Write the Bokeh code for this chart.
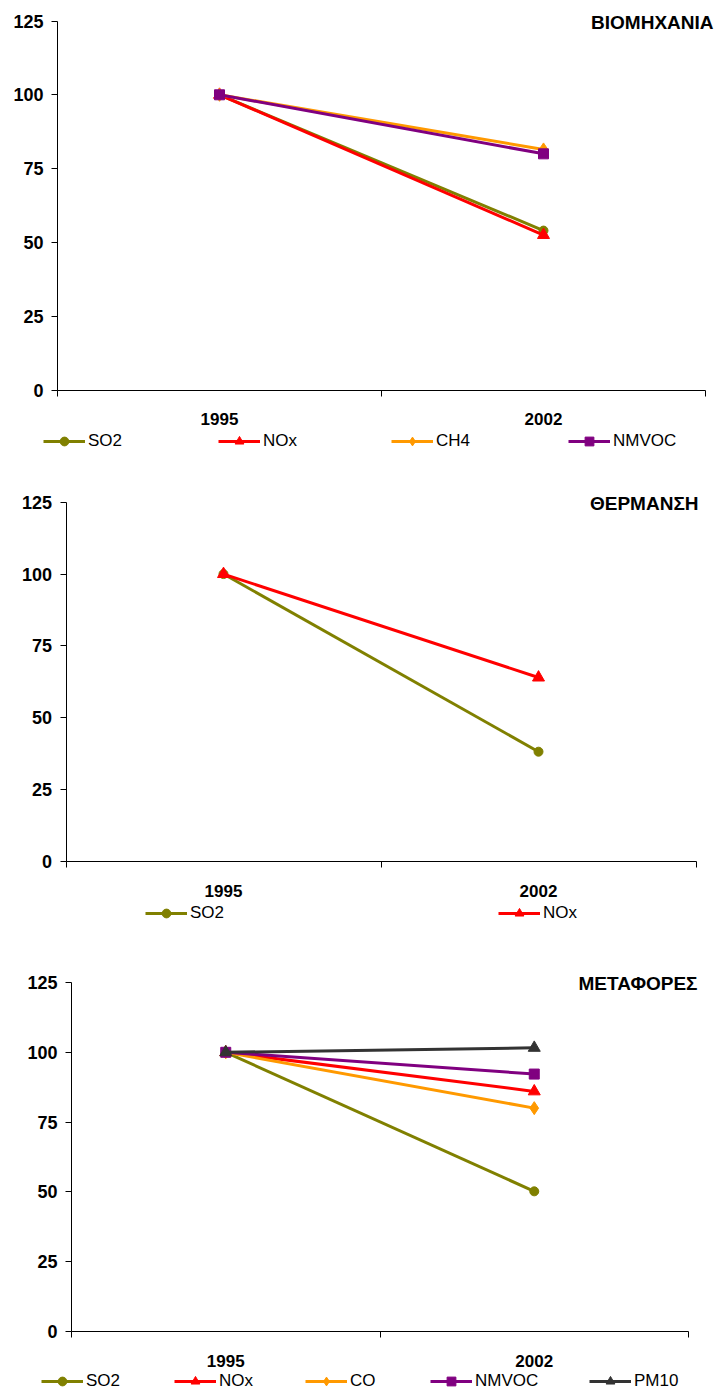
from bokeh.plotting import figure
from bokeh.models import Range1d, FixedTicker, Legend, LegendItem, Label
from bokeh.embed import file_html
from bokeh.resources import INLINE

# ---------------- data ----------------
years = ["1995", "2002"]
y_ticks = [0, 25, 50, 75, 100, 125]
Y_TOP = 125

industry_title = "ΒΙΟΜΗΧΑΝΙΑ"
industry_names = ["SO2", "NOx", "CH4", "NMVOC"]
industry_so2 = [100, 54.0]
industry_nox = [100, 52.5]
industry_ch4 = [100, 81.5]
industry_nmvoc = [100, 80.0]

heating_title = "ΘΕΡΜΑΝΣΗ"
heating_names = ["SO2", "NOx"]
heating_so2 = [100, 38.2]
heating_nox = [100, 64.0]

transport_title = "ΜΕΤΑΦΟΡΕΣ"
transport_names = ["SO2", "NOx", "CO", "NMVOC", "PM10"]
transport_so2 = [100, 50.2]
transport_nox = [100, 86.0]
transport_co = [100, 80.0]
transport_nmvoc = [100, 92.2]
transport_pm10 = [100, 101.6]

# ---------------- styles ----------------
STYLE = {
    "SO2": ("#808000", "circle", 9),
    "NOx": ("#FF0000", "triangle", 12),
    "CH4": ("#FF9900", "diamond", 13),
    "CO": ("#FF9900", "diamond", 13),
    "NMVOC": ("#800080", "square", 10),
    "PM10": ("#333333", "triangle", 12),
}
FONT = "Liberation Sans"
FIG_W = 716


def make_panel(title, names, series, fig_top, height, geom, legend_xs, legend_vy, title_pos):
    # geom (page pixels): axis left, axis right, y of top tick, y of zero line
    ax_l, ax_r, py_top, py_zero = geom
    n = len(years)
    ux = (ax_r - ax_l) / n          # px per x unit
    uy = (py_zero - py_top) / Y_TOP  # px per y unit
    x_range = Range1d(-ax_l / ux, (FIG_W - ax_l) / ux)
    y_range = Range1d(-(fig_top + height - py_zero) / uy, (py_zero - fig_top) / uy)

    p = figure(width=FIG_W, height=height, output_backend="svg", toolbar_location=None,
               x_range=x_range, y_range=y_range,
               min_border_left=0, min_border_right=0,
               min_border_top=0, min_border_bottom=0)
    p.title.visible = False
    p.outline_line_color = None
    p.xgrid.visible = False
    p.ygrid.visible = False
    p.background_fill_color = "white"
    p.border_fill_color = "white"

    xs = [i + 0.5 for i in range(n)]

    xa = p.xaxis[0]
    xa.fixed_location = 0
    xa.bounds = (0, n)
    xa.ticker = FixedTicker(ticks=xs, minor_ticks=list(range(n + 1)))
    xa.major_label_overrides = {x: y for x, y in zip(xs, years)}
    xa.major_tick_in = 0
    xa.major_tick_out = 0
    xa.minor_tick_in = 0
    xa.minor_tick_out = 6
    xa.minor_tick_line_color = "black"
    xa.axis_line_color = "black"
    xa.major_label_standoff = 17
    xa.major_label_text_font = FONT
    xa.major_label_text_font_style = "bold"
    xa.major_label_text_font_size = "17px"
    xa.major_label_text_color = "black"

    ya = p.yaxis[0]
    ya.fixed_location = 0
    ya.bounds = (0, Y_TOP)
    ya.ticker = FixedTicker(ticks=y_ticks)
    ya.major_tick_in = 0
    ya.major_tick_out = 6
    ya.minor_tick_line_color = None
    ya.axis_line_color = "black"
    ya.major_tick_line_color = "black"
    ya.major_label_standoff = 8
    ya.major_label_text_font = FONT
    ya.major_label_text_font_style = "bold"
    ya.major_label_text_font_size = "18px"
    ya.major_label_text_color = "black"

    for name, vals, lx in zip(names, series, legend_xs):
        color, marker, size = STYLE[name]
        lr = p.line(xs, vals, line_color=color, line_width=3)
        sr = p.scatter(xs, vals, marker=marker, size=size, fill_color=color, line_color=color)
        leg = Legend(items=[LegendItem(label=name, renderers=[lr, sr])],
                     location=(lx, legend_vy), orientation="horizontal",
                     glyph_width=42, glyph_height=22, label_standoff=3,
                     label_height=22, padding=0, margin=0, spacing=0,
                     border_line_color=None, background_fill_alpha=0,
                     label_text_font=FONT, label_text_font_size="17px",
                     label_text_color="black")
        p.add_layout(leg)

    # title: right edge x (page), vertical centre (page)
    tx, ty = title_pos
    p.add_layout(Label(x=tx, y=fig_top + height - ty, x_units="screen", y_units="screen",
                       text=title, text_align="right", text_baseline="middle",
                       text_font=FONT, text_font_style="bold", text_font_size="19px",
                       text_color="black"))
    return p


p1 = make_panel(industry_title, industry_names,
                [industry_so2, industry_nox, industry_ch4, industry_nmvoc],
                0, 460, (57, 705, 20.5, 389.5),
                [43, 218, 391, 568], 8, (713, 22))
p2 = make_panel(heating_title, heating_names,
                [heating_so2, heating_nox],
                460, 472, (65.5, 695.5, 501.7, 861),
                [145, 498], 8, (698, 503))
p3 = make_panel(transport_title, transport_names,
                [transport_so2, transport_nox, transport_co, transport_nmvoc, transport_pm10],
                932, 460, (71, 688, 982, 1331),
                [41, 174, 305, 430, 589], 0, (697, 983))

open("out.html", "w").write(file_html([p1, p2, p3], INLINE))
